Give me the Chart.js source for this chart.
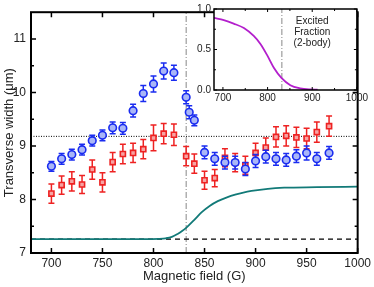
<!DOCTYPE html>
<html><head><meta charset="utf-8">
<script src="https://cdn.jsdelivr.net/npm/chart.js@4"></script>
<style>
html,body{margin:0;padding:0;background:#fff;}
#wrap{position:relative;width:374px;height:287px;overflow:hidden;}
#main{position:absolute;left:0;top:0;}
#inset{position:absolute;left:190px;top:0;}
</style></head><body>
<div id="wrap">
<canvas id="main" width="374" height="287"></canvas>
<canvas id="inset" width="180" height="106"></canvas>
</div>
<script>
// ---------- data ----------
const blueField = [700,710,720,730,740,750,760,770,780,790,800,810,820,832,835,840,850,860,870,880,890,900,910,920,930,940,950,960,972];
const blueWidth = [8.62,8.76,8.84,8.93,9.10,9.20,9.34,9.33,9.66,9.98,10.16,10.40,10.37,9.91,9.63,9.48,8.88,8.76,8.69,8.69,8.57,8.72,8.80,8.76,8.74,8.81,8.87,8.76,8.87];
const blueErr   = [0.09,0.10,0.10,0.10,0.10,0.10,0.11,0.11,0.12,0.15,0.15,0.15,0.14,0.12,0.12,0.10,0.12,0.12,0.12,0.12,0.12,0.12,0.12,0.12,0.12,0.12,0.13,0.12,0.12];

const redField = [700,710,720,730,740,750,760,770,780,790,800,810,820,832,840,850,860,870,880,890,900,910,920,930,940,950,960,972];
const redWidth = [8.11,8.27,8.34,8.28,8.56,8.32,8.70,8.85,8.87,8.94,9.15,9.23,9.21,8.81,8.67,8.36,8.40,8.78,8.69,8.64,8.87,8.97,9.17,9.19,9.16,9.14,9.26,9.37];
const redErr   = [0.18,0.17,0.18,0.17,0.18,0.18,0.18,0.18,0.18,0.18,0.24,0.19,0.20,0.18,0.18,0.17,0.16,0.17,0.17,0.17,0.18,0.18,0.19,0.19,0.19,0.19,0.19,0.19];

const fitField = [680,700,750,790,805,812,818,824,828,832,840,847,855,863,872,880,888,896,912,928,960,1000];
const fitWidth = [7.26,7.26,7.26,7.26,7.265,7.275,7.30,7.36,7.41,7.47,7.62,7.76,7.88,7.97,8.04,8.09,8.13,8.16,8.20,8.22,8.23,8.24];

const fracField = [680,702,724,747,769,784,799,814,831,851,873,895,912];
const fracValue = [0.89,0.862,0.82,0.765,0.667,0.568,0.43,0.274,0.149,0.059,0.02,0.006,0.003];

const resonanceField = 832;
const refWidth = 9.18;
const baseWidth = 7.26;

const xTicks = [700,750,800,850,900,950,1000];
const yTicks = [7,8,9,10,11];
const yMinorTicks = [7.5,8.5,9.5,10.5];
const insetXTicks = [700,800,900,1000];
const insetXMinor = [750,850,950];
const insetYTicks = [0,0.5,1.0];
const insetYMinor = [0.25,0.75];
const insetLabel = ['Excited','Fraction','(2-body)'];

// ---------- helpers ----------
const FONT = "'Liberation Sans', Arial, sans-serif";
const pts = (xs, ys) => xs.map((x, i) => ({x, y: ys[i]}));

const errorBars = {
  id: 'errorBars',
  beforeDatasetDraw(chart, args) {
    const ds = chart.data.datasets[args.index];
    if (!ds.errors) return;
    const meta = args.meta, y = chart.scales.y, ctx = chart.ctx;
    ctx.save();
    ctx.strokeStyle = ds.borderColor; ctx.lineWidth = 1.5;
    ctx.beginPath();
    meta.data.forEach((el, i) => {
      const v = ds.data[i].y, e = ds.errors[i];
      const top = y.getPixelForValue(v + e), bot = y.getPixelForValue(v - e);
      ctx.moveTo(el.x, top); ctx.lineTo(el.x, bot);
      ctx.moveTo(el.x - 3, top); ctx.lineTo(el.x + 3, top);
      ctx.moveTo(el.x - 3, bot); ctx.lineTo(el.x + 3, bot);
    });
    ctx.stroke();
    ctx.restore();
  }
};

function frameTicks(cfg) {
  return {
    id: 'frameTicks',
    beforeDraw(chart) {
      if (!cfg.fill) return;
      const a = chart.chartArea, ctx = chart.ctx;
      ctx.save(); ctx.fillStyle = '#fff';
      ctx.fillRect(a.left, a.top, a.right - a.left, a.bottom - a.top);
      ctx.restore();
    },
    afterDraw(chart) {
      const a = chart.chartArea, ctx = chart.ctx, x = chart.scales.x, y = chart.scales.y;
      ctx.save();
      ctx.strokeStyle = '#000'; ctx.lineWidth = cfg.tickWidth;
      ctx.beginPath();
      const xt = (list, len) => list.forEach(v => { const p = x.getPixelForValue(v);
        ctx.moveTo(p, a.bottom); ctx.lineTo(p, a.bottom - len);
        ctx.moveTo(p, a.top); ctx.lineTo(p, a.top + len); });
      const yt = (list, len) => list.forEach(v => { const p = y.getPixelForValue(v);
        ctx.moveTo(a.left, p); ctx.lineTo(a.left + len, p);
        ctx.moveTo(a.right, p); ctx.lineTo(a.right - len, p); });
      xt(cfg.xMajor, cfg.major); xt(cfg.xMinor, cfg.minor);
      yt(cfg.yMajor, cfg.major); yt(cfg.yMinor, cfg.minor);
      ctx.stroke();
      ctx.lineWidth = cfg.frameWidth;
      ctx.strokeRect(a.left, a.top, a.right - a.left, a.bottom - a.top);
      if (cfg.text) {
        ctx.fillStyle = '#222'; ctx.font = cfg.text.font; ctx.textAlign = 'center'; ctx.textBaseline = 'middle';
        cfg.text.lines.forEach((t, i) => ctx.fillText(t, x.getPixelForValue(cfg.text.x), cfg.text.y0 + i * cfg.text.dy));
      }
      ctx.restore();
    }
  };
}

// ---------- main chart ----------
new Chart(document.getElementById('main'), {
  type: 'scatter',
  data: {
    datasets: [
      { label: 'blue', data: pts(blueField, blueWidth), errors: blueErr, order: 0,
        pointStyle: 'circle', pointRadius: 3.8, borderWidth: 1.6,
        borderColor: '#1a2cf0', backgroundColor: '#a9b6f7', showLine: false },
      { label: 'red', data: pts(redField, redWidth), errors: redErr, order: 1,
        pointStyle: 'rect', pointRadius: 3.6, borderWidth: 1.6,
        borderColor: '#ee2222', backgroundColor: '#f6a3a3', showLine: false },
      { label: 'fit', data: pts(fitField, fitWidth), order: 2, showLine: true,
        borderColor: '#127a78', borderWidth: 1.8, pointRadius: 0, cubicInterpolationMode: 'monotone' },
      { label: 'base', data: [{x: 680, y: baseWidth}, {x: 1000, y: baseWidth}], order: 3, showLine: true,
        borderColor: '#000', borderWidth: 1.2, borderDash: [5, 4], pointRadius: 0 },
      { label: 'ref', data: [{x: 680, y: refWidth}, {x: 1000, y: refWidth}], order: 3, showLine: true,
        borderColor: '#000', borderWidth: 1, borderDash: [1, 1.5], pointRadius: 0 },
      { label: 'res', data: [{x: resonanceField, y: 7}, {x: resonanceField, y: 11.5}], order: 3, showLine: true,
        borderColor: '#888', borderWidth: 1, borderDash: [6, 2, 1, 2], pointRadius: 0 }
    ]
  },
  options: {
    responsive: false, animation: false, devicePixelRatio: 1,
    layout: { padding: { top: 1, right: 11, left: 0, bottom: 0 } },
    plugins: { legend: { display: false }, tooltip: { enabled: false } },
    scales: {
      x: {
        type: 'linear', min: 680, max: 1000,
        afterBuildTicks: s => { s.ticks = xTicks.map(v => ({value: v})); },
        afterFit: s => { s.height = 34; },
        grid: { display: false, drawTicks: false }, border: { display: false },
        ticks: { color: '#222', font: { family: FONT, size: 12 }, padding: 3, maxRotation: 0, autoSkip: false,
          callback: v => String(v) },
        title: { display: true, text: 'Magnetic field (G)', color: '#222', font: { family: FONT, size: 13 }, padding: { top: 0, bottom: 3 } }
      },
      y: {
        type: 'linear', min: 7, max: 11.5,
        afterBuildTicks: s => { s.ticks = yTicks.map(v => ({value: v})); },
        afterFit: s => { s.width = 31; },
        grid: { display: false, drawTicks: false }, border: { display: false },
        ticks: { color: '#222', font: { family: FONT, size: 12 }, padding: 5, autoSkip: false,
          callback: v => String(v) },
        title: { display: true, text: 'Transverse width (μm)', color: '#222', font: { family: FONT, size: 13 }, padding: { top: 2, bottom: 0 } }
      }
    }
  },
  plugins: [errorBars, frameTicks({ xMajor: xTicks, xMinor: [], yMajor: yTicks, yMinor: yMinorTicks,
    major: 5, minor: 3, tickWidth: 1.5, frameWidth: 2 })]
});

// ---------- inset chart ----------
new Chart(document.getElementById('inset'), {
  type: 'scatter',
  data: {
    datasets: [
      { label: 'fraction', data: pts(fracField, fracValue), showLine: true, order: 0,
        borderColor: '#b31fcc', borderWidth: 1.8, pointRadius: 0, cubicInterpolationMode: 'monotone' },
      { label: 'res', data: [{x: resonanceField, y: 0}, {x: resonanceField, y: 1}], showLine: true, order: 1,
        borderColor: '#888', borderWidth: 1, borderDash: [6, 2, 1, 2], pointRadius: 0 }
    ]
  },
  options: {
    responsive: false, animation: false, devicePixelRatio: 1,
    layout: { padding: { top: 5, right: 13, left: 0, bottom: 0 } },
    plugins: { legend: { display: false }, tooltip: { enabled: false } },
    scales: {
      x: {
        type: 'linear', min: 680, max: 1000,
        afterBuildTicks: s => { s.ticks = insetXTicks.map(v => ({value: v})); },
        afterFit: s => { s.height = 16; },
        grid: { display: false, drawTicks: false }, border: { display: false },
        ticks: { color: '#222', font: { family: FONT, size: 10 }, padding: 2, maxRotation: 0, autoSkip: false,
          callback: v => String(v) }
      },
      y: {
        type: 'linear', min: 0, max: 1,
        afterBuildTicks: s => { s.ticks = insetYTicks.map(v => ({value: v})); },
        afterFit: s => { s.width = 24; },
        grid: { display: false, drawTicks: false }, border: { display: false },
        ticks: { color: '#222', font: { family: FONT, size: 10 }, padding: 3, autoSkip: false,
          callback: v => Number(v).toFixed(1) }
      }
    }
  },
  plugins: [frameTicks({ fill: true, xMajor: insetXTicks, xMinor: insetXMinor, yMajor: insetYTicks, yMinor: insetYMinor,
    major: 3, minor: 2, tickWidth: 1, frameWidth: 1.5,
    text: { lines: insetLabel, x: 900, y0: 21, dy: 11, font: '10px ' + FONT } })]
});
</script>
</body></html>
